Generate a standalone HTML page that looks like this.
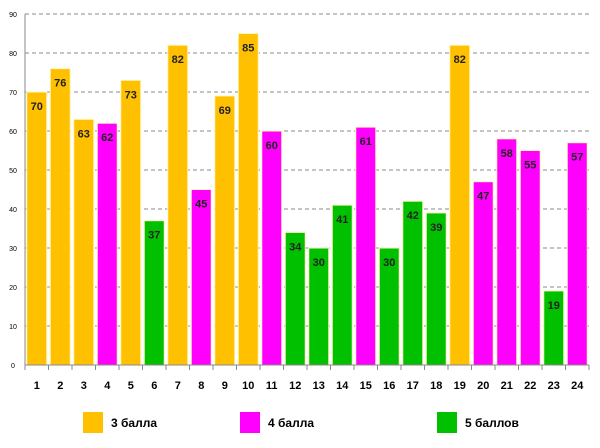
<!DOCTYPE html>
<html><head><meta charset="utf-8"><style>
body{margin:0;background:#fff;}
svg{display:block;font-family:"Liberation Sans",sans-serif;}
</style></head><body>
<svg id="c" width="600" height="448"></svg>
<script>
const categories=["1","2","3","4","5","6","7","8","9","10","11","12","13","14","15","16","17","18","19","20","21","22","23","24"];
const values=[70,76,63,62,73,37,82,45,69,85,60,34,30,41,61,30,42,39,82,47,58,55,19,57];
const grades=[3,3,3,4,3,5,3,4,3,3,4,5,5,5,4,5,5,5,3,4,4,4,5,4];
const yTicks=[0,10,20,30,40,50,60,70,80,90];
const legendLabels=["3 балла","4 балла","5 баллов"];
const colors={3:"#FFC000",4:"#FF00FF",5:"#00C000"};
const NS="http://www.w3.org/2000/svg";
const svg=document.getElementById("c");
const x0=25,x1=589,y0=365,yTop=14,ymax=90;
const step=(x1-x0)/categories.length;
const y=v=>y0-(v/ymax)*(y0-yTop);
const xc=i=>x0+step*(i+0.5);
function mk(t,a,p){const e=document.createElementNS(NS,t);for(const k in a)e.setAttribute(k,a[k]);(p||svg).appendChild(e);return e;}
yTicks.forEach(t=>{
 if(t>0){const g=mk("line",{x1:x0,x2:x1,y1:y(t),y2:y(t),stroke:"#888","stroke-dasharray":"4,3","stroke-width":1});
 
 }
 const l=mk("text",{x:13,y:y(t)+3,"font-size":7,"text-anchor":"middle",fill:"#000"});l.textContent=t;
 
 
});
values.forEach((v,i)=>{
 const w=20;
 const r=mk("rect",{x:xc(i)-w/2,y:y(v),width:w,height:y0-y(v),fill:colors[grades[i]],stroke:"#fff7c0","stroke-width":1});
 
 
 const t=mk("text",{x:xc(i),y:y(v)+18,"font-size":11,"font-weight":"bold","text-anchor":"middle",fill:"#222"});t.textContent=v;
 
 
 const c=mk("text",{x:xc(i),y:389,"font-size":11,"font-weight":"bold","text-anchor":"middle",fill:"#000"});c.textContent=categories[i];
 
 
});
const ax=mk("line",{x1:x0,x2:x1,y1:y0,y2:y0,stroke:"#888","stroke-width":1});


const ay=mk("line",{x1:x0,x2:x0,y1:yTop,y2:y0,stroke:"#888","stroke-width":1});


for(let i=0;i<=categories.length;i++){const tk=mk("line",{x1:x0+step*i,x2:x0+step*i,y1:y0,y2:y0+5,stroke:"#888"});
 
 }
const lx=[83,240,437];
[3,4,5].forEach((g,i)=>{
 const s=mk("rect",{x:lx[i],y:412,width:20,height:21,fill:colors[g]});
 
 
 const t=mk("text",{x:lx[i]+28,y:427,"font-size":12,"font-weight":"bold",fill:"#000"});t.textContent=legendLabels[i];
 
 
});
</script>
</body></html>
